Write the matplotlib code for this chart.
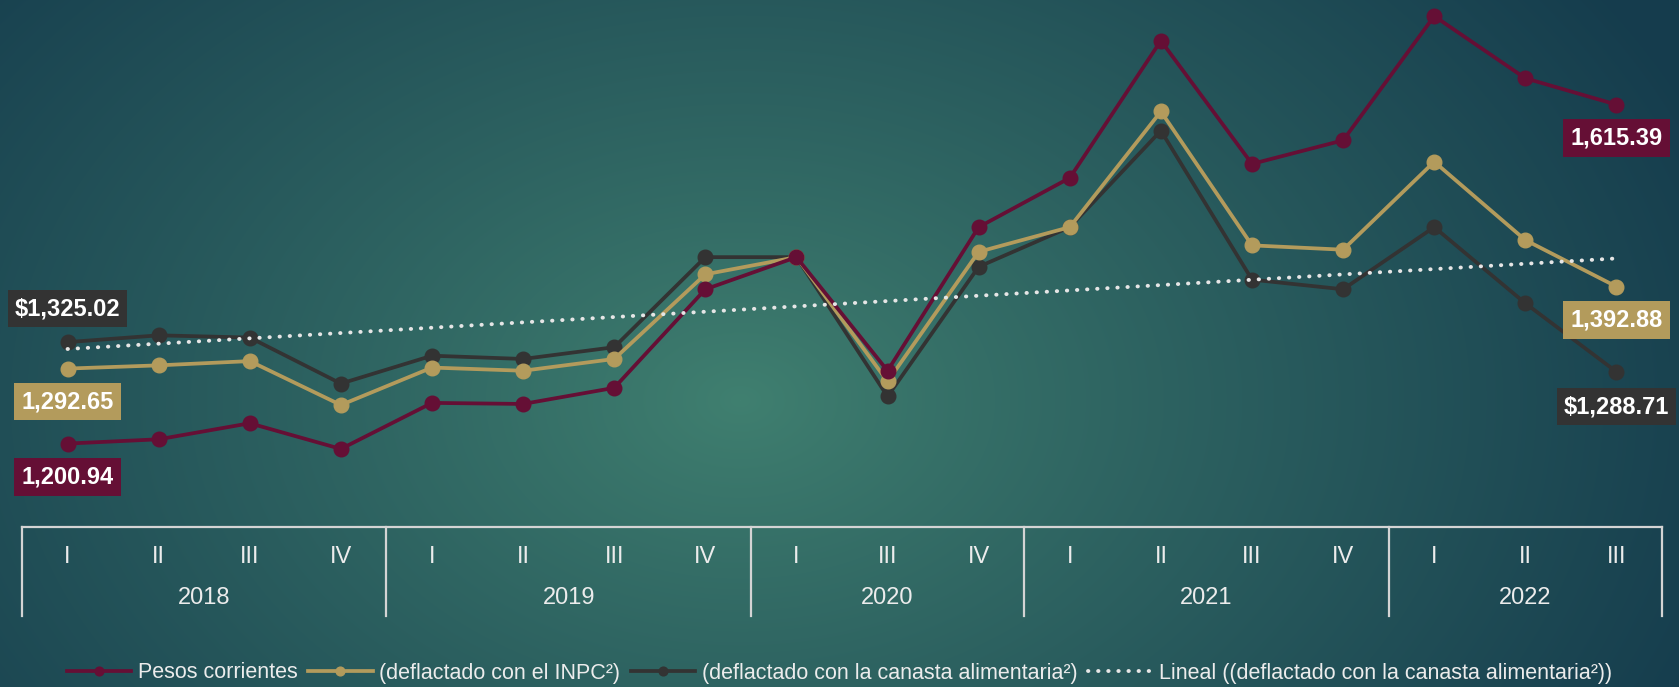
import numpy as np
import matplotlib
matplotlib.use("Agg")
import matplotlib.pyplot as plt

# ---------------- data ----------------
quarters = ["I", "II", "III", "IV", "I", "II", "III", "IV", "I", "III", "IV",
            "I", "II", "III", "IV", "I", "II", "III"]
years = ["2018", "2019", "2020", "2021", "2022"]
year_sizes = [4, 4, 3, 4, 3]

pesos_corrientes = [1200.94, 1206.2, 1225.8, 1194.4, 1250.7, 1249.4, 1269.1, 1389.6, 1428.9,
                    1290.0, 1465.6, 1525.8, 1693.5, 1542.9, 1571.7, 1723.6, 1647.6, 1615.39]
deflactado_inpc = [1292.65, 1296.6, 1301.8, 1248.1, 1293.9, 1290.0, 1304.4, 1407.9, 1428.9,
                   1276.9, 1435.4, 1465.6, 1607.0, 1443.3, 1438.0, 1545.5, 1449.8, 1392.88]
deflactado_canasta = [1325.02, 1333.3, 1330.6, 1274.3, 1308.4, 1304.4, 1318.8, 1428.9, 1428.9,
                      1258.6, 1417.1, 1465.6, 1583.5, 1401.4, 1389.6, 1465.6, 1372.5, 1288.71]

series_names = ["Pesos corrientes", "(deflactado con el INPC²)",
                "(deflactado con la canasta alimentaria²)"]
trend_name = "Lineal ((deflactado con la canasta alimentaria²))"

C_RED = "#650F35"
C_GOLD = "#B39B5C"
C_DARK = "#333333"
C_TXT = "#ECECEC"

W, H = 1679, 687
fig = plt.figure(figsize=(W / 100, H / 100), dpi=100)

# ---------------- background radial gradient ----------------
bg = fig.add_axes([0, 0, 1, 1], zorder=-10)
yy, xx = np.mgrid[0:H, 0:W]
cx, cy = 740, 400
d = np.sqrt(((xx - cx) / 1000.0) ** 2 + ((yy - cy) / 700.0) ** 2)
d = np.clip(d / 1.05, 0, 1) ** 0.9
c0 = np.array([64, 128, 112]) / 255.0
c1 = np.array([21, 60, 77]) / 255.0
img = c0[None, None, :] * (1 - d[..., None]) + c1[None, None, :] * d[..., None]
bg.imshow(img, aspect="auto", extent=[0, 1, 0, 1], origin="upper")
bg.axis("off")

# ---------------- main axes ----------------
x0f, x1f = 22 / W, 1662 / W
ax = fig.add_axes([x0f, 1 - 525 / H, x1f - x0f, 525 / H])
ax.patch.set_alpha(0)
n = len(quarters)
x = np.arange(n)
ax.set_xlim(-0.5, n - 0.5)
ax.set_ylim(1101.4, 1743.3)
for s in ax.spines.values():
    s.set_visible(False)
ax.set_xticks([])
ax.set_yticks([])

lw, ms = 2.7, 10.5
l1, = ax.plot(x, pesos_corrientes, color=C_RED, lw=lw, marker="o", ms=ms, zorder=4,
              label=series_names[0])
l2, = ax.plot(x, deflactado_inpc, color=C_GOLD, lw=lw, marker="o", ms=ms, zorder=3,
              label=series_names[1])
l3, = ax.plot(x, deflactado_canasta, color=C_DARK, lw=lw, marker="o", ms=ms, zorder=2,
              label=series_names[2])
coef = np.polyfit(x, deflactado_canasta, 1)
trend = np.polyval(coef, x)
l4, = ax.plot(x, trend, color="#E6E6E6", lw=2.8, linestyle=(0, (0.1, 2.5)),
              dash_capstyle="round", zorder=5, label=trend_name)

def lab(i, vals, txt, color, dy):
    ax.annotate(txt, (x[i], vals[i]), xytext=(0, dy), textcoords="offset points",
                ha="center", va="center", color="white", fontsize=17, fontweight="bold",
                family=["Liberation Sans", "DejaVu Sans"], zorder=6,
                bbox=dict(boxstyle="square,pad=0.3", fc=color, ec="none"))

lab(0, deflactado_canasta, "$1,325.02", C_DARK, 24)
lab(0, deflactado_inpc, "1,292.65", C_GOLD, -24)
lab(0, pesos_corrientes, "1,200.94", C_RED, -24)
lab(n - 1, pesos_corrientes, "1,615.39", C_RED, -24)
lab(n - 1, deflactado_inpc, "1,392.88", C_GOLD, -24)
lab(n - 1, deflactado_canasta, "$1,288.71", C_DARK, -25)

# ---------------- category box ----------------
bx = fig.add_axes([x0f, 1 - 616 / H, x1f - x0f, (616 - 527) / H])
bx.patch.set_alpha(0)
bx.set_xlim(-0.5, n - 0.5)
bx.set_ylim(0, 1)
bx.axis("off")
lc = "#D4D4D4"
bx.plot([-0.5, n - 0.5], [1, 1], color=lc, lw=1.6, clip_on=False)
bounds = np.concatenate([[0], np.cumsum(year_sizes)]) - 0.5
for b in bounds:
    bx.plot([b, b], [0, 1], color=lc, lw=1.6, clip_on=False)
fam = ["Liberation Sans", "DejaVu Sans"]
for i, q in enumerate(quarters):
    bx.text(i, 0.66, q, ha="center", va="center", color=C_TXT, fontsize=17, family=fam)
for k, yv in enumerate(years):
    mid = (bounds[k] + bounds[k + 1]) / 2
    bx.text(mid, 0.2, yv, ha="center", va="center", color=C_TXT, fontsize=17, family=fam)

# ---------------- legend ----------------
leg = fig.legend(handles=[l1, l2, l3, l4], loc="center", bbox_to_anchor=(0.5, 1 - 673 / H),
                 ncol=4, frameon=False, handlelength=3.0, handletextpad=0.3,
                 columnspacing=0.5, markerscale=0.6,
                 prop={"family": ["Liberation Sans", "DejaVu Sans"], "size": 15.5})
for t in leg.get_texts():
    t.set_color(C_TXT)

fig.savefig("out.png", dpi=100)
